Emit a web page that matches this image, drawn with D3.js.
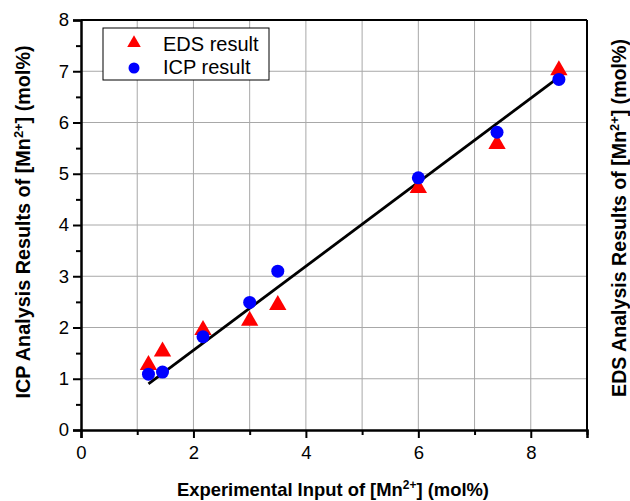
<!DOCTYPE html>
<html>
<head>
<meta charset="utf-8">
<script src="https://cdn.jsdelivr.net/npm/d3@7"></script>
<style>
  body { margin: 0; background: #fff; }
  svg { font-family: "Liberation Sans", Arial, sans-serif; }
</style>
</head>
<body>
<div id="chart"></div>
<script>
// data
const inputX = [1.2, 1.45, 2.17, 3.0, 3.5, 6.0, 7.4, 8.5];
const edsY = [1.27, 1.53, 1.95, 2.13, 2.44, 4.72, 5.58, 7.02];
const icpY = [1.09, 1.13, 1.82, 2.49, 3.10, 4.92, 5.81, 6.84];
const fitX = [1.2, 8.52];
const fitY = [0.9, 6.9];
const xTicks = [0, 2, 4, 6, 8];
const yTicks = [0, 1, 2, 3, 4, 5, 6, 7, 8];
const legendNames = ["EDS result", "ICP result"];

const width = 630, height = 501;
const pLeft = 81, pRight = 587, pTop = 20, pBottom = 430;

let svg = d3.select("#chart")
    .append("svg")
    .attr("width", width)
    .attr("height", height);

let xScale = d3.scaleLinear().domain([0, 9]).range([pLeft, pRight]);
let yScale = d3.scaleLinear().domain([0, 8]).range([pBottom, pTop]);

// grid
svg.append("g").selectAll("line")
    .data(d3.range(1, 9))
    .enter().append("line")
    .attr("x1", d => xScale(d)).attr("x2", d => xScale(d))
    .attr("y1", pTop).attr("y2", pBottom)
    .attr("stroke", "#a8a8a8").attr("stroke-width", 1);
svg.append("g").selectAll("line")
    .data(d3.range(1, 8))
    .enter().append("line")
    .attr("y1", d => yScale(d)).attr("y2", d => yScale(d))
    .attr("x1", pLeft).attr("x2", pRight)
    .attr("stroke", "#a8a8a8").attr("stroke-width", 1);

// frame top/right
svg.append("line").attr("x1", pLeft).attr("x2", pRight).attr("y1", pTop).attr("y2", pTop)
    .attr("stroke", "#000").attr("stroke-width", 2);
svg.append("line").attr("x1", pRight).attr("x2", pRight).attr("y1", pTop).attr("y2", pBottom)
    .attr("stroke", "#000").attr("stroke-width", 2);

// axes
let xAxis = svg.append("g")
    .attr("transform", `translate(0, ${pBottom})`)
    .call(d3.axisBottom(xScale).tickValues(d3.range(0, 10)).tickSize(8).tickPadding(8)
        .tickFormat(d => xTicks.includes(d) ? d : ""));
xAxis.selectAll(".tick line").attr("y2", d => xTicks.includes(d) ? 8 : 5);
let yAxis = svg.append("g")
    .attr("transform", `translate(${pLeft}, 0)`)
    .call(d3.axisLeft(yScale).tickValues(d3.range(0, 8.5, 0.5)).tickSize(8).tickPadding(4)
        .tickFormat(d => yTicks.includes(d) ? d : ""));
yAxis.selectAll(".tick line").attr("x2", d => yTicks.includes(d) ? -8 : -5);

[xAxis, yAxis].forEach(a => {
    a.select(".domain").attr("stroke", "#000").attr("stroke-width", 2.5);
    a.selectAll(".tick line").attr("stroke", "#000").attr("stroke-width", 2);
    a.selectAll("text").attr("font-size", 18.5).attr("fill", "#000")
        .attr("font-family", "Liberation Sans, Arial, sans-serif");
});

// fit line
svg.append("line")
    .attr("x1", xScale(fitX[0])).attr("y1", yScale(fitY[0]))
    .attr("x2", xScale(fitX[1])).attr("y2", yScale(fitY[1]))
    .attr("stroke", "#000").attr("stroke-width", 2.8);

const tri = d3.symbol().type(d3.symbolTriangle).size(130);

// EDS points
svg.append("g").selectAll("path")
    .data(inputX.map((x, i) => [x, edsY[i]]))
    .enter().append("path")
    .attr("d", tri)
    .attr("transform", d => `translate(${xScale(d[0])},${yScale(d[1])})`)
    .attr("fill", "#ff0000");

// ICP points
svg.append("g").selectAll("circle")
    .data(inputX.map((x, i) => [x, icpY[i]]))
    .enter().append("circle")
    .attr("cx", d => xScale(d[0])).attr("cy", d => yScale(d[1]))
    .attr("r", 6.5)
    .attr("fill", "#0000ff");

// legend
let lg = svg.append("g");
lg.append("rect").attr("x", 103).attr("y", 28).attr("width", 166).attr("height", 52)
    .attr("fill", "#fff").attr("stroke", "#000").attr("stroke-width", 1);
lg.append("path").attr("d", d3.symbol().type(d3.symbolTriangle).size(80))
    .attr("transform", "translate(134,43)").attr("fill", "#ff0000");
lg.append("circle").attr("cx", 134).attr("cy", 68).attr("r", 5.5).attr("fill", "#0000ff");
lg.selectAll("text").data(legendNames).enter().append("text")
    .attr("x", 163).attr("y", (d, i) => 51 + i * 23)
    .attr("font-size", 20)
    .text(d => d);

// axis titles
function title(sel, pre, post) {
    sel.append("tspan").text(pre);
    sel.append("tspan").attr("font-size", "0.65em").attr("dy", "-0.55em").text("2+");
    sel.append("tspan").attr("dy", "0.36em").text(post);
}
title(svg.append("text")
    .attr("x", 333).attr("y", 496)
    .attr("text-anchor", "middle").attr("font-weight", "bold").attr("font-size", 18.4),
    "Experimental Input of [Mn", "] (mol%)");
title(svg.append("text")
    .attr("transform", "translate(30,222) rotate(-90)")
    .attr("text-anchor", "middle").attr("font-weight", "bold").attr("font-size", 19.8),
    "ICP Analysis Results of [Mn", "] (mol%)");
title(svg.append("text")
    .attr("transform", "translate(626,218) rotate(-90)")
    .attr("text-anchor", "middle").attr("font-weight", "bold").attr("font-size", 19.6),
    "EDS Analysis Results of [Mn", "] (mol%)");
</script>
</body>
</html>
